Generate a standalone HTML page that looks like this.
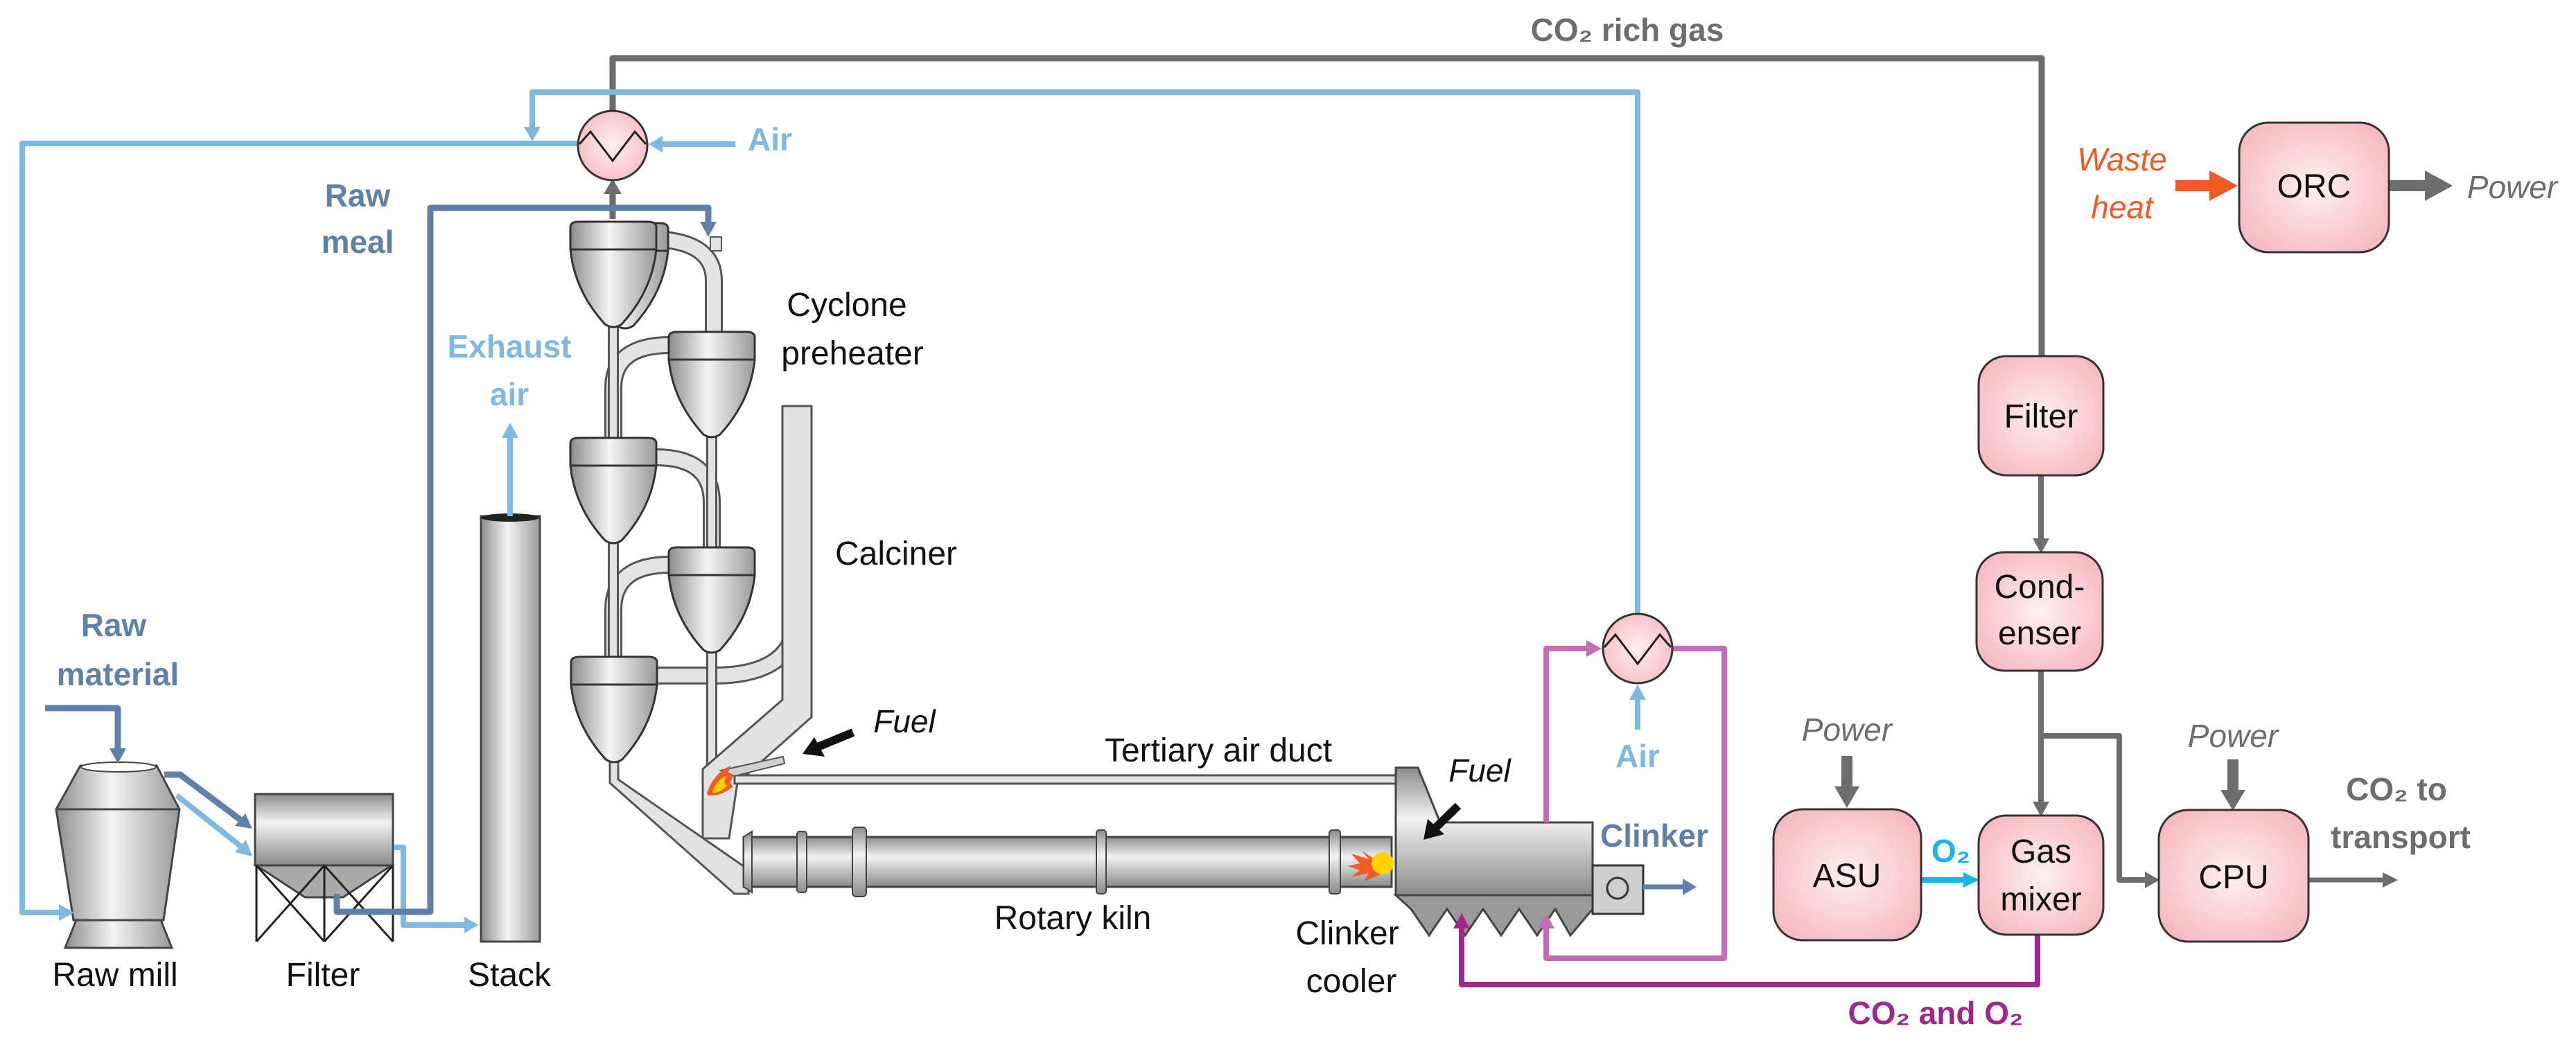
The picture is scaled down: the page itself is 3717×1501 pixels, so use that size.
<!DOCTYPE html>
<html><head><meta charset="utf-8"><style>
html,body{margin:0;padding:0;background:#fff}
svg{display:block}
text{font-family:"Liberation Sans",sans-serif}
</style></head><body>
<svg width="3717" height="1501" viewBox="0 0 3717 1501" xmlns="http://www.w3.org/2000/svg">
<defs>
<linearGradient id="mh" x1="0" x2="1" y1="0" y2="0"><stop offset="0" stop-color="#8c8c8c"/><stop offset="0.45" stop-color="#f4f4f4"/><stop offset="1" stop-color="#9a9a9a"/></linearGradient>
<linearGradient id="mv" x1="0" x2="0" y1="0" y2="1"><stop offset="0" stop-color="#8c8c8c"/><stop offset="0.4" stop-color="#f2f2f2"/><stop offset="1" stop-color="#8a8a8a"/></linearGradient>
<radialGradient id="pk" cx="0.5" cy="0.5" r="0.6"><stop offset="0" stop-color="#fdf0f1"/><stop offset="1" stop-color="#f7b9c1"/></radialGradient>
<g id="cyc">
<path d="M-62,40 L62,40 Q56,100 12,148 Q0,156 -12,148 Q-56,100 -62,40Z" fill="url(#mh)" stroke="#333" stroke-width="3"/>
<path d="M-62,8 Q-62,0 -50,0 L50,0 Q62,0 62,8 L62,40 L-62,40Z" fill="url(#mh)" stroke="#333" stroke-width="3"/>
</g>
</defs>

<g fill="none" stroke-linejoin="round">
<g stroke="#555" stroke-width="26">
<path d="M935,345 Q1030,345 1030,405 L1030,480"/>
<path d="M967,498 Q885,498 885,560 L885,632"/>
<path d="M946,660 Q1027,660 1027,725 L1027,790"/>
<path d="M967,815 Q885,815 885,880 L885,948"/>
<path d="M949,975 L1030,975 Q1150,975 1150,885 L1150,586"/>
</g>
<g stroke="#e4e4e4" stroke-width="20">
<path d="M935,345 Q1030,345 1030,405 L1030,480"/>
<path d="M967,498 Q885,498 885,560 L885,632"/>
<path d="M946,660 Q1027,660 1027,725 L1027,790"/>
<path d="M967,815 Q885,815 885,880 L885,948"/>
<path d="M949,975 L1030,975 Q1150,975 1150,885 L1150,586"/>
</g>
<g stroke="#555" stroke-width="16">
<path d="M885,465 L885,635"/><path d="M1027,625 L1027,795"/><path d="M885,780 L885,950"/><path d="M1027,940 L1027,1120"/>
</g>
<g stroke="#e4e4e4" stroke-width="10">
<path d="M885,465 L885,635"/><path d="M1027,625 L1027,795"/><path d="M885,780 L885,950"/><path d="M1027,940 L1027,1120"/>
</g>
</g>
<rect x="1025" y="342" width="16" height="20" fill="#e4e4e4" stroke="#555" stroke-width="2"/>
<path d="M1129,586 L1171,586 L1171,1035 L1064,1130 L1052,1210 L1014,1210 L1014,1110 L1129,1010Z" fill="#e2e2e2" stroke="#555" stroke-width="3"/>
<path d="M880,1095 L892,1095 L892,1125 L1080,1255 L1080,1290 L1060,1290 L880,1130Z" fill="#e2e2e2" stroke="#555" stroke-width="3"/>
<rect x="1060" y="1119" width="956" height="12" fill="#e2e2e2" stroke="#555" stroke-width="3"/>
<path d="M1040,1112 L1130,1092 L1132,1102 L1060,1120Z" fill="#d0d0d0" stroke="#555" stroke-width="2"/>
<use href="#cyc" x="902" y="322"/>
<use href="#cyc" x="885" y="320"/>
<use href="#cyc" x="1027" y="479"/>
<use href="#cyc" x="885" y="632"/>
<use href="#cyc" x="1027" y="790"/>
<use href="#cyc" x="886" y="948"/>
<path d="M1020,1145 Q1030,1115 1055,1105 Q1045,1120 1060,1118 Q1050,1130 1058,1135 Q1040,1150 1022,1148Z" fill="#f15a24"/>
<path d="M1028,1142 Q1035,1125 1048,1120 Q1042,1132 1050,1134 Q1038,1145 1028,1144Z" fill="#ffd200"/>

<rect x="1073" y="1208" width="935" height="72" fill="url(#mv)" stroke="#444" stroke-width="3"/>
<path d="M1073,1208 L1085,1200 L1085,1288 L1073,1280Z" fill="url(#mv)" stroke="#444" stroke-width="2"/>
<rect x="1150" y="1200" width="14" height="88" rx="4" fill="url(#mv)" stroke="#444" stroke-width="2"/>
<rect x="1230" y="1194" width="20" height="100" rx="5" fill="url(#mv)" stroke="#444" stroke-width="2"/>
<rect x="1582" y="1198" width="14" height="92" rx="4" fill="url(#mv)" stroke="#444" stroke-width="2"/>
<rect x="1918" y="1198" width="16" height="92" rx="4" fill="url(#mv)" stroke="#444" stroke-width="2"/>
<path d="M1990,1244 L1965,1228 L1975,1240 L1950,1232 L1962,1246 L1945,1250 L1962,1256 L1950,1266 L1975,1260 L1968,1272 L1992,1262Z" fill="#f15a24"/>
<ellipse cx="1995" cy="1246" rx="16" ry="16" fill="#ffd200"/>
<path d="M2014,1108 L2046,1108 L2078,1187 L2298,1187 L2298,1292 L2014,1292Z" fill="url(#mv)" stroke="#444" stroke-width="3"/>
<path d="M2014,1292 L2298,1292 L2298,1312 L2266,1350 L2244,1312 L2218,1350 L2192,1312 L2166,1350 L2140,1312 L2114,1350 L2088,1312 L2062,1350 L2036,1312 L2014,1292Z" fill="#9a9a9a" stroke="#444" stroke-width="3"/>
<rect x="2298" y="1249" width="73" height="70" fill="#cfcfcf" stroke="#333" stroke-width="3"/>
<circle cx="2334" cy="1282" r="15" fill="none" stroke="#333" stroke-width="3"/>

<rect x="694" y="745" width="85" height="614" fill="url(#mh)" stroke="#444" stroke-width="3"/>
<ellipse cx="736" cy="747" rx="42" ry="6" fill="#222"/>
<path d="M116,1105 L226,1105 L259,1168 L236,1328 L106,1328 L81,1168Z" fill="url(#mh)" stroke="#444" stroke-width="3"/>
<path d="M81,1168 L259,1168" stroke="#444" stroke-width="3"/>
<ellipse cx="171" cy="1107" rx="54" ry="7" fill="#fff" stroke="#444" stroke-width="2"/>
<path d="M110,1328 L232,1328 L248,1368 L94,1368Z" fill="url(#mh)" stroke="#444" stroke-width="3"/>
<rect x="368" y="1146" width="199" height="103" fill="url(#mv)" stroke="#444" stroke-width="3"/>
<path d="M370,1249 L565,1249 L495,1295 L440,1295Z" fill="#aaa" stroke="#444" stroke-width="3"/>
<g stroke="#222" stroke-width="3" fill="none">
<path d="M370,1249 L370,1359 M567,1249 L567,1359 M468,1249 L468,1359 M370,1249 L468,1359 M468,1249 L370,1359 M468,1249 L567,1359 M567,1249 L468,1359"/>
</g>

<g fill="none" stroke-linejoin="round" stroke-linecap="butt">
<path d="M884,160 L884,84 L2946,84 L2946,625" stroke="#6d6d6d" stroke-width="9"/>
<path d="M884,316 L884,276" stroke="#6d6d6d" stroke-width="9"/>
<path d="M2363,886 L2363,133 L768,133 L768,190" stroke="#7fb8e2" stroke-width="8"/>
<path d="M834,207 L32,207 L32,1317 L90,1317" stroke="#7fb8e2" stroke-width="8"/>
<path d="M1061,208 L952,208" stroke="#7fb8e2" stroke-width="8"/>
<path d="M736,745 L736,625" stroke="#7fb8e2" stroke-width="8"/>
<path d="M569,1223 L582,1223 L582,1335 L675,1335" stroke="#7fb8e2" stroke-width="8"/>
<path d="M255,1148 L348,1222" stroke="#7fb8e2" stroke-width="8"/>
<path d="M2363,1053 L2363,1005" stroke="#7fb8e2" stroke-width="8"/>
<path d="M486,1290 L486,1316 L621,1316 L621,300 L1022,300 L1022,325" stroke="#5f80a8" stroke-width="9"/>
<path d="M65,1022 L170,1022 L170,1085" stroke="#5f80a8" stroke-width="9"/>
<path d="M237,1118 L260,1118 L348,1184" stroke="#5f80a8" stroke-width="9"/>
<path d="M2371,1280 L2432,1280" stroke="#5f80a8" stroke-width="7"/>
<path d="M2231,1187 L2231,936 L2293,936" stroke="#c569b8" stroke-width="8"/>
<path d="M2414,936 L2488,936 L2488,1383 L2231,1383 L2231,1335" stroke="#c569b8" stroke-width="8"/>
<path d="M2940,1349 L2940,1421 L2109,1421 L2109,1335" stroke="#a0268c" stroke-width="8"/>
<path d="M2945,686 L2945,782" stroke="#6d6d6d" stroke-width="8"/>
<path d="M2945,968 L2945,1162" stroke="#6d6d6d" stroke-width="8"/>
<path d="M2945,1062 L3058,1062 L3058,1270 L3100,1270" stroke="#6d6d6d" stroke-width="8"/>
<path d="M3331,1270 L3443,1270" stroke="#6d6d6d" stroke-width="7"/>
<path d="M2665,1091 L2665,1140" stroke="#6d6d6d" stroke-width="16"/>
<path d="M3222,1096 L3222,1145" stroke="#6d6d6d" stroke-width="16"/>
<path d="M3447,268 L3504,268" stroke="#6d6d6d" stroke-width="16"/>
<path d="M3139,268 L3192,268" stroke="#f15a24" stroke-width="16"/>
<path d="M2772,1270 L2838,1270" stroke="#19b5e8" stroke-width="8"/>
<path d="M1231,1057 L1180,1078" stroke="#111" stroke-width="12"/>
<path d="M2104,1163 L2070,1196" stroke="#111" stroke-width="12"/>
</g>
<g>
<path d="M2933,620 L2959,620 L2946,641Z" fill="#6d6d6d"/>
<path d="M871,280 L897,280 L884,258Z" fill="#6d6d6d"/>
<path d="M756,183 L780,183 L768,204Z" fill="#7fb8e2"/>
<path d="M85,1305 L85,1329 L107,1317Z" fill="#7fb8e2"/>
<path d="M956,196 L956,220 L936,208Z" fill="#7fb8e2"/>
<path d="M724,632 L748,632 L736,610Z" fill="#7fb8e2"/>
<path d="M670,1323 L670,1347 L690,1335Z" fill="#7fb8e2"/>
<path d="M339,1230 L355,1212 L364,1236Z" fill="#7fb8e2"/>
<path d="M2351,1010 L2375,1010 L2363,988Z" fill="#7fb8e2"/>
<path d="M1010,320 L1034,320 L1022,342Z" fill="#5f80a8"/>
<path d="M158,1080 L182,1080 L170,1102Z" fill="#5f80a8"/>
<path d="M339,1192 L354,1174 L364,1196Z" fill="#5f80a8"/>
<path d="M2428,1268 L2428,1292 L2448,1280Z" fill="#5f80a8"/>
<path d="M2289,924 L2289,948 L2311,936Z" fill="#c569b8"/>
<path d="M2219,1340 L2243,1340 L2231,1318Z" fill="#c569b8"/>
<path d="M2097,1340 L2121,1340 L2109,1318Z" fill="#a0268c"/>
<path d="M2933,777 L2957,777 L2945,799Z" fill="#6d6d6d"/>
<path d="M2933,1157 L2957,1157 L2945,1179Z" fill="#6d6d6d"/>
<path d="M3095,1258 L3095,1282 L3116,1270Z" fill="#6d6d6d"/>
<path d="M3438,1259 L3438,1281 L3460,1270Z" fill="#6d6d6d"/>
<path d="M2647,1135 L2683,1135 L2665,1166Z" fill="#6d6d6d"/>
<path d="M3204,1140 L3240,1140 L3222,1170Z" fill="#6d6d6d"/>
<path d="M3499,246 L3499,290 L3539,268Z" fill="#6d6d6d"/>
<path d="M3188,246 L3188,290 L3229,268Z" fill="#f15a24"/>
<path d="M2833,1259 L2833,1281 L2856,1270Z" fill="#19b5e8"/>
<path d="M1158,1088 L1175,1064 L1190,1092Z" fill="#111"/>
<path d="M2054,1212 L2060,1182 L2084,1204Z" fill="#111"/>
</g>

<g fill="url(#pk)" stroke="#333" stroke-width="3">
<ellipse cx="884" cy="210" rx="50" ry="50"/>
<ellipse cx="2363" cy="936" rx="50" ry="50"/>
</g>
<path d="M836,208 L852,190 L884,232 L916,190 L932,208" fill="none" stroke="#222" stroke-width="3"/>
<path d="M2315,934 L2331,916 L2363,958 L2395,916 L2411,934" fill="none" stroke="#222" stroke-width="3"/>

<g fill="url(#pk)" stroke="#333" stroke-width="3">
<rect x="3231" y="177" width="216" height="187" rx="42"/>
<rect x="2855" y="514" width="180" height="172" rx="40"/>
<rect x="2852" y="797" width="182" height="171" rx="40"/>
<rect x="2559" y="1168" width="213" height="189" rx="42"/>
<rect x="2855" y="1177" width="180" height="172" rx="40"/>
<rect x="3115" y="1169" width="216" height="190" rx="42"/>
</g>

<g font-size="48" fill="#111" text-anchor="middle">
<text x="3339" y="285">ORC</text>
<text x="2945" y="617">Filter</text>
<text x="2943" y="863">Cond-</text>
<text x="2943" y="930">enser</text>
<text x="2665" y="1280">ASU</text>
<text x="2945" y="1245">Gas</text>
<text x="2945" y="1314">mixer</text>
<text x="3223" y="1282">CPU</text>
<text x="1222" y="456">Cyclone</text>
<text x="1230" y="526">preheater</text>
<text x="1293" y="815">Calciner</text>
<text x="1758" y="1099">Tertiary air duct</text>
<text x="1548" y="1341">Rotary kiln</text>
<text x="1944" y="1363">Clinker</text>
<text x="1950" y="1432">cooler</text>
<text x="166" y="1423">Raw mill</text>
<text x="466" y="1423">Filter</text>
<text x="735" y="1423">Stack</text>
</g>
<g font-size="46" font-style="italic" fill="#111" text-anchor="middle">
<text x="1305" y="1057">Fuel</text>
<text x="2135" y="1128">Fuel</text>
</g>
<g font-size="46" font-style="italic" fill="#6d6d6d" text-anchor="middle">
<text x="3625" y="286">Power</text>
<text x="2665" y="1069">Power</text>
<text x="3222" y="1078">Power</text>
</g>
<g font-size="46" font-style="italic" fill="#f15a24" text-anchor="middle">
<text x="3062" y="246">Waste</text>
<text x="3062" y="315">heat</text>
</g>
<g font-size="46" font-weight="bold" text-anchor="middle">
<text x="2348" y="59" fill="#6d6d6d">CO₂ rich gas</text>
<text x="3458" y="1155" fill="#6d6d6d">CO₂ to</text>
<text x="3464" y="1224" fill="#6d6d6d">transport</text>
<text x="2793" y="1478" fill="#a0268c">CO₂ and O₂</text>
<text x="2815" y="1244" fill="#19b5e8">O₂</text>
<text x="1111" y="217" fill="#7fb8e2">Air</text>
<text x="2363" y="1107" fill="#7fb8e2">Air</text>
<text x="735" y="516" fill="#7fb8e2">Exhaust</text>
<text x="735" y="585" fill="#7fb8e2">air</text>
<text x="516" y="298" fill="#5f80a8">Raw</text>
<text x="516" y="365" fill="#5f80a8">meal</text>
<text x="164" y="918" fill="#5f80a8">Raw</text>
<text x="170" y="989" fill="#5f80a8">material</text>
<text x="2387" y="1222" fill="#5f80a8">Clinker</text>
</g>
</svg>
</body></html>
